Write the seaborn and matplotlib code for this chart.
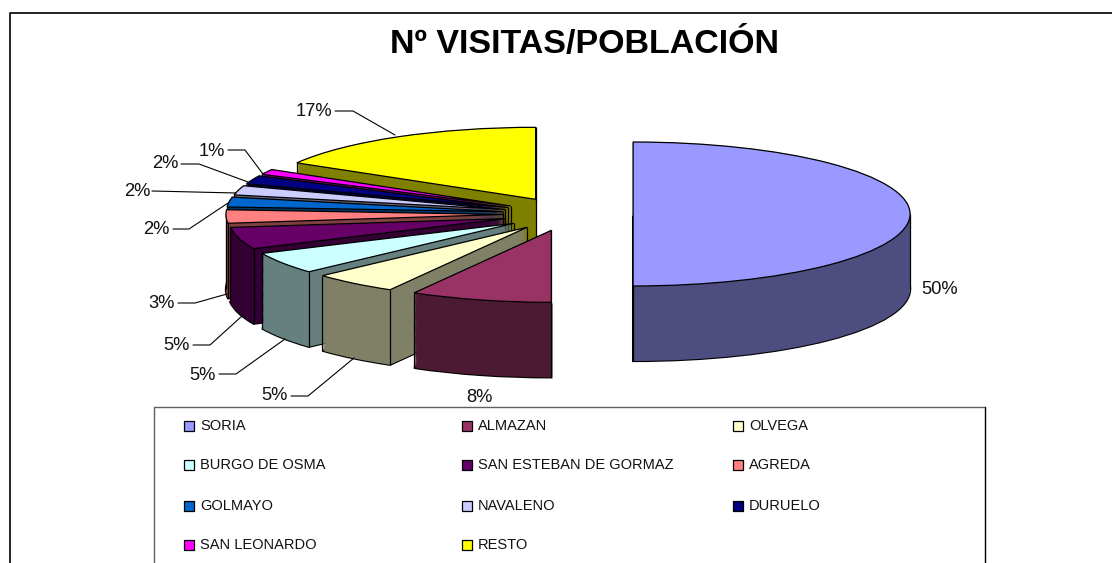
import matplotlib
matplotlib.use("Agg")
import numpy as np
import matplotlib.pyplot as plt
import seaborn as sns

# data (labels show these rounded)
towns = ["SORIA", "ALMAZAN", "OLVEGA", "BURGO DE OSMA", "SAN ESTEBAN DE GORMAZ",
         "AGREDA", "GOLMAYO", "NAVALENO", "DURUELO", "SAN LEONARDO", "RESTO"]
visitas = [50.0, 8.25, 5.0, 4.9, 4.9, 3.0, 2.2, 2.1, 1.9, 1.2, 16.55]
hex_colors = ["#9999FF", "#993366", "#FFFFCC", "#CCFFFF", "#660066", "#FF8080",
              "#0066CC", "#CCCCFF", "#000080", "#FF00FF", "#FFFF00"]

# label centre and leader line, in figure pixels
label_pos = [(940, 289), (479, 397), (275, 396), (203, 375), (177, 345), (162, 303),
             (156, 229), (137, 191), (165, 164), (212, 151), (314, 111)]
leaders = [None, None,
           [(291, 396), (308, 396), (354, 358)],
           [(219, 374), (236, 374), (285, 339)],
           [(193, 345), (210, 345), (242, 316)],
           [(178, 303), (195, 303), (227, 294)],
           [(173, 229), (189, 229), (228, 203)],
           [(152, 191), (236, 193)],
           [(181, 164), (199, 164), (248, 182)],
           [(228, 150), (245, 150), (263, 174)],
           [(335, 111), (353, 111), (395, 135)]]

W, H = 1112, 563
CX, CY = 568, 214      # pie centre
RX, RY = 277, 72       # pie radii
DEPTH = 75             # height of the extrusion
EXPLODE = 0.235
N_LAYERS = 70

sns.set_theme(style="white")
plt.rcParams['font.family'] = ['Liberation Sans', 'DejaVu Sans']

palette = sns.color_palette(hex_colors)
dark = [tuple(c * 0.5 for c in col) for col in palette]

fig = plt.figure(figsize=(W / 100, H / 100), dpi=100, facecolor="white")
ax = fig.add_axes([0, 0, 1, 1])

explode = [EXPLODE] * len(visitas)
# Soria sits at the back of the paint order, then Resto, and round clockwise
# backwards, so the slices in front cover the ones behind
ranks = [0] + [len(visitas) - i for i in range(1, len(visitas))]


def draw_pie(offset, colors, level, **wedge_kw):
    wedges, _ = ax.pie(visitas, explode=explode, colors=colors, startangle=90,
                       counterclock=False, center=(0, offset), wedgeprops=wedge_kw)
    for w, r in zip(wedges, ranks):
        w.set_zorder(10 + r + level)
    return wedges


offsets = np.linspace(-DEPTH / RY, 0, N_LAYERS)
draw_pie(offsets[0], dark, 0.1, edgecolor="black", linewidth=1.6)
for off in offsets:
    draw_pie(off, dark, 0.2, edgecolor="none", linewidth=0)
tops = draw_pie(0, palette, 0.4, edgecolor="black", linewidth=0.9)

# vertical edges at the corners of each slice and where the rim turns back
for w, r in zip(tops, ranks):
    cx, cy = w.center
    corners = [w.theta2]
    # the near-top corner of a back-left slice hides behind its own top
    if not 90 < w.theta1 % 360 < 180:
        corners.append(w.theta1)
    for turn in (-360, -180, 0, 180, 360):
        if w.theta1 < turn < w.theta2:
            corners.append(turn)
    xs = [cx] + [cx + w.r * np.cos(np.radians(t)) for t in corners]
    ys = [cy] + [cy + w.r * np.sin(np.radians(t)) for t in corners]
    for x, y in zip(xs, ys):
        ax.plot([x, x], [y, y - DEPTH / RY], color="black", lw=0.9,
                zorder=10 + r + 0.3, solid_capstyle="butt")

ax.set_aspect("auto")
ax.set_xlim(-CX / RX, (W - CX) / RX)
ax.set_ylim(-(H - CY) / RY, CY / RY)
ax.set_axis_off()

# overlay in figure pixels for frame, labels and legend
ov = fig.add_axes([0, 0, 1, 1], facecolor="none")
ov.set_xlim(0, W)
ov.set_ylim(H, 0)
ov.set_axis_off()

ov.plot([10, 10, W], [H, 13, 13], color="black", lw=1.2, clip_on=False)
ov.text(584, 44, "Nº VISITAS/POBLACIÓN", fontsize=24.5, fontweight="bold",
        color="black", ha="center", va="center")

for val, pos, leader in zip(visitas, label_pos, leaders):
    ov.text(pos[0], pos[1], f"{val:.0f}%", fontsize=13.2, color="#111111",
            ha="center", va="center")
    if leader is not None:
        ov.plot([p[0] for p in leader], [p[1] for p in leader], color="black", lw=0.8)

# legend box runs off the bottom of the picture
ov.plot([154, 154, 985], [H, 407, 407], color="#606060", lw=1.0, clip_on=False)
ov.plot([985, 985], [407, H], color="black", lw=1.0, clip_on=False)
col_x = [189, 467, 738]
row_y = [425, 464, 505, 544]
for i, (town, col) in enumerate(zip(towns, palette)):
    row, c = divmod(i, 3)
    ov.scatter(col_x[c], row_y[row] + 1, s=58, marker="s", color=col,
               edgecolor="black", linewidth=0.9)
    ov.text(col_x[c] + 11, row_y[row] + 1, town, fontsize=10.5, color="#111111",
            ha="left", va="center")

fig.savefig("out.png", dpi=100, facecolor="white")
